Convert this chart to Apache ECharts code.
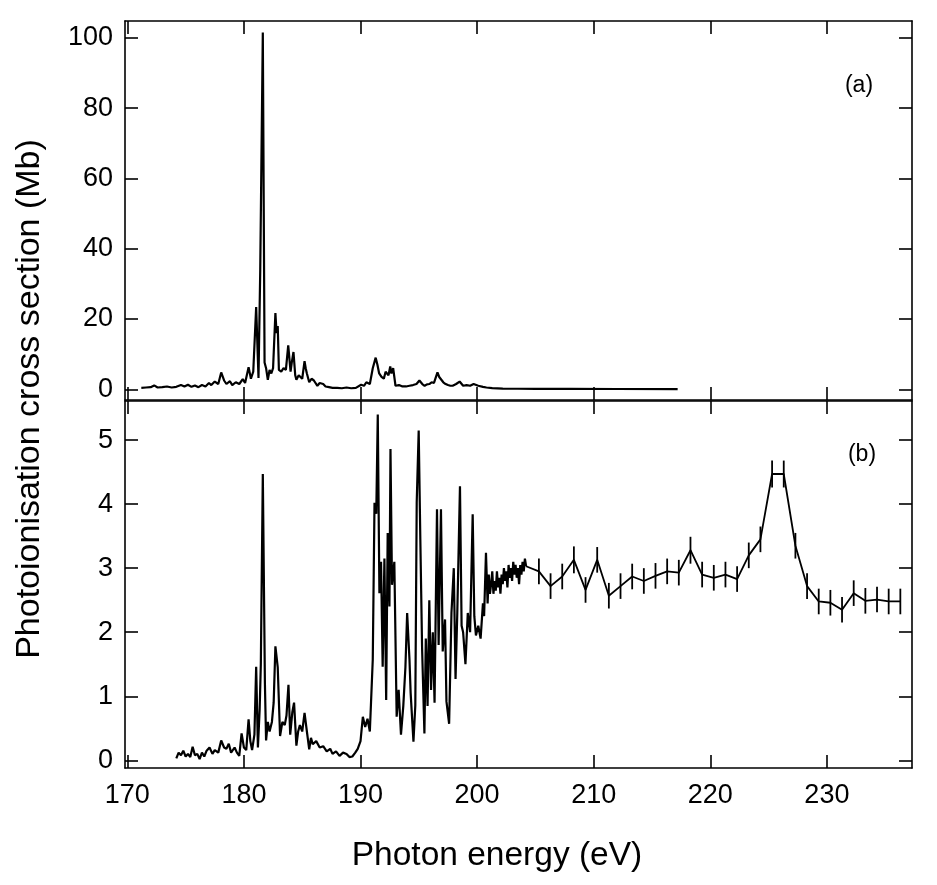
<!DOCTYPE html>
<html>
<head>
<meta charset="utf-8">
<script src="https://cdn.jsdelivr.net/npm/echarts@6/dist/echarts.min.js"></script>
<style>html,body{margin:0;padding:0;background:#fff;}#c{width:937px;height:885px;}</style>
</head>
<body>
<div id="c"></div>
<script>
// ---- Panel (a) spectrum ----
var energyA = [171.2,171.6,172.0,172.3,172.6,173.0,173.4,173.8,174.2,174.6,174.9,175.2,175.5,175.8,176.1,176.4,176.7,177.0,177.2,177.5,177.8,178.05,178.3,178.5,178.8,179.0,179.3,179.6,179.9,180.1,180.4,180.6,180.8,181.05,181.25,181.4,181.62,181.77,181.9,182.05,182.2,182.35,182.5,182.7,182.8,182.9,183.0,183.2,183.4,183.6,183.8,184.0,184.1,184.25,184.4,184.5,184.7,184.8,185.0,185.2,185.3,185.4,185.6,185.8,186.0,186.3,186.5,186.8,187.0,187.3,187.6,188.0,188.4,188.8,189.2,189.6,190.05,190.3,190.5,190.8,191.05,191.3,191.45,191.6,191.8,192.0,192.15,192.3,192.4,192.55,192.65,192.8,193.0,193.3,193.6,193.9,194.2,194.5,194.8,195.05,195.3,195.5,195.7,195.9,196.1,196.3,196.6,196.75,196.9,197.1,197.3,197.5,197.7,197.9,198.2,198.5,198.8,199.1,199.4,199.7,200.1,200.5,200.8,201.3,202.2,203.5,205,208,212,217.2];
var sigmaA = [0.4,0.5,0.6,1.1,0.5,0.6,0.8,0.5,0.7,1.2,0.8,1.3,0.7,1.1,0.6,1.2,0.8,1.8,1.2,2.2,1.5,4.8,2.5,1.5,2.3,1.2,2.0,1.5,2.9,1.8,6.3,3.0,5.0,23.4,3.2,34,101.5,7.6,6.0,2.7,5.5,4.5,6.0,21.7,16,18,5.5,5.0,6.0,5.5,12.5,5.0,7.5,10.6,4.0,2.7,4.0,4.5,3.0,8.0,6.0,4.5,2.0,3.0,2.5,1.0,1.8,1.5,0.8,0.6,0.4,0.4,0.3,0.5,0.3,0.4,1.3,1.0,2.0,1.5,6.0,9.0,7.0,4.5,3.5,3.0,5.0,5.5,4.0,6.5,4.5,6.0,1.0,1.2,0.8,0.8,1.0,1.2,1.5,2.5,1.5,1.0,1.4,1.5,2.0,1.8,4.8,3.5,3.0,2.0,1.5,1.2,1.0,1.0,1.5,2.2,1.0,1.2,1.0,1.5,1.0,0.7,0.5,0.35,0.2,0.15,0.12,0.1,0.08,0.05];

// ---- Panel (b) high-resolution spectrum ----
var energyB = [174.2,174.4,174.6,174.8,175.0,175.2,175.4,175.6,175.8,176.0,176.2,176.4,176.6,176.8,177.05,177.3,177.5,177.8,178.05,178.3,178.5,178.7,178.9,179.2,179.4,179.6,179.8,180.0,180.2,180.4,180.55,180.7,180.9,181.05,181.2,181.35,181.45,181.62,181.8,181.9,182.05,182.2,182.4,182.55,182.7,182.9,183.1,183.3,183.5,183.65,183.82,183.97,184.15,184.3,184.5,184.65,184.8,185.0,185.2,185.4,185.6,185.75,185.9,186.2,186.5,186.8,187.1,187.4,187.6,187.9,188.2,188.5,188.8,189.05,189.3,189.55,189.76,189.9,190.0,190.2,190.4,190.6,190.8,191.05,191.2,191.35,191.48,191.62,191.76,191.9,192.05,192.2,192.33,192.48,192.57,192.7,192.9,193.1,193.27,193.47,193.67,193.85,194.0,194.2,194.3,194.54,194.7,194.82,194.99,195.13,195.28,195.48,195.6,195.75,195.9,196.05,196.2,196.35,196.56,196.7,196.9,197.05,197.25,197.37,197.6,197.8,198.0,198.15,198.3,198.53,198.67,198.8,199.0,199.2,199.4,199.62,199.76,199.9,200.1,200.3,200.5,200.6,200.76,200.9,201.0,201.1,201.2,201.3,201.4,201.5,201.6,201.7,201.8,201.9,202.0,202.1,202.2,202.3,202.4,202.5,202.6,202.7,202.8,202.9,203.0,203.1,203.2,203.3,203.4,203.5,203.6,203.7,203.8,203.9,204.0,204.1,204.2];
var sigmaB = [0.03,0.12,0.08,0.15,0.06,0.1,0.05,0.21,0.08,0.1,0.02,0.12,0.06,0.15,0.2,0.1,0.16,0.12,0.31,0.2,0.18,0.26,0.12,0.2,0.12,0.07,0.42,0.2,0.16,0.64,0.3,0.16,0.4,1.46,0.2,0.8,1.5,4.47,1.2,0.31,0.6,0.45,0.6,0.9,1.78,1.45,0.38,0.6,0.55,0.7,1.18,0.4,0.75,0.9,0.23,0.45,0.55,0.45,0.74,0.45,0.17,0.35,0.25,0.3,0.2,0.22,0.14,0.18,0.1,0.14,0.07,0.12,0.1,0.05,0.06,0.12,0.18,0.16,0.3,0.68,0.52,0.65,0.45,1.57,4.02,3.85,5.4,2.61,3.1,1.46,3.15,0.94,3.55,2.4,4.86,2.74,3.1,0.68,1.1,0.4,0.85,1.45,2.3,1.57,1.05,0.29,0.86,4.03,5.15,3.45,1.76,0.42,1.9,0.85,2.5,1.1,2.0,0.9,3.92,1.8,3.92,1.7,2.2,0.92,0.57,2.3,3.0,1.27,2.3,4.28,2.1,2.0,1.5,2.3,2.0,3.84,2.25,1.95,2.1,1.9,2.45,2.25,3.24,2.45,2.9,2.6,2.75,2.95,2.6,2.8,2.65,2.95,2.7,2.85,2.6,2.9,2.75,3.0,2.8,2.95,2.7,3.05,2.85,3.0,2.8,3.1,2.9,3.05,2.85,3.0,2.75,3.05,2.9,3.1,2.95,3.15,3.03];

// ---- Panel (b) discrete points with error bars ----
var energyPts = [205.3,206.3,207.3,208.3,209.3,210.3,211.3,212.3,213.3,214.3,215.3,216.3,217.3,218.3,219.3,220.3,221.3,222.3,223.3,224.3,225.3,226.3,227.3,228.3,229.3,230.3,231.3,232.3,233.3,234.3,235.3,236.3];
var sigmaPts = [2.95,2.72,2.87,3.13,2.66,3.13,2.57,2.72,2.87,2.80,2.88,2.95,2.93,3.28,2.90,2.85,2.90,2.83,3.20,3.45,4.47,4.47,3.35,2.72,2.48,2.46,2.35,2.61,2.49,2.51,2.48,2.48];
var errPts = [0.2,0.2,0.2,0.21,0.2,0.2,0.2,0.2,0.2,0.2,0.2,0.2,0.2,0.21,0.2,0.2,0.2,0.2,0.2,0.2,0.21,0.21,0.2,0.2,0.2,0.2,0.2,0.2,0.2,0.2,0.2,0.2];

// ---- Tick labels ----
var xTicks = [170,180,190,200,210,220,230];
var yTicksA = [0,20,40,60,80,100];
var yTicksB = [0,1,2,3,4,5];

function zip(xs, ys){ var o=[]; for(var i=0;i<xs.length;i++) o.push([xs[i], ys[i]]); return o; }

var dataA = zip(energyA, sigmaA);
var dataB = zip(energyB, sigmaB);
var dataPts = [[energyB[energyB.length-1], sigmaB[sigmaB.length-1]]].concat(zip(energyPts, sigmaPts));
var errData = [];
for (var i=0;i<energyPts.length;i++) errData.push([energyPts[i], sigmaPts[i]-errPts[i], sigmaPts[i]+errPts[i]]);

var FONT = 'Liberation Sans';
var black = '#000';
var lineStyle = {color: black, width: 2.2};

function xAx(grid, pos, labels){
  return {
    type:'value', gridIndex:grid, position:pos, min:169.8, max:237.3,
    axisLine:{show:true, onZero:false, lineStyle:{color:black, width:1.6}},
    axisTick:{show:true, inside:true, length:13, customValues:xTicks, lineStyle:{color:black, width:1.6}},
    axisLabel:{show:labels, customValues:xTicks, fontFamily:FONT, fontSize:27, color:black, margin:14},
    splitLine:{show:false}
  };
}
function yAx(grid, pos, min, max, ticks, labels){
  return {
    type:'value', gridIndex:grid, position:pos, min:min, max:max,
    axisLine:{show:true, onZero:false, lineStyle:{color:black, width:1.6}},
    axisTick:{show:true, inside:true, length:13, customValues:ticks, lineStyle:{color:black, width:1.6}},
    axisLabel:{show:labels, customValues:ticks, fontFamily:FONT, fontSize:27, color:black, margin:12},
    splitLine:{show:false}
  };
}

var chart = echarts.init(document.getElementById('c'), null, {renderer:'canvas'});
chart.setOption({
  backgroundColor:'#fff',
  animation:false,
  grid:[
    {left:125, right:25, top:21, height:379},
    {left:125, right:25, top:401, height:367}
  ],
  xAxis:[ xAx(0,'bottom',false), xAx(0,'top',false), xAx(1,'bottom',true), xAx(1,'top',false) ],
  yAxis:[
    yAx(0,'left',-3.05,104.8,yTicksA,true), yAx(0,'right',-3.05,104.8,yTicksA,false),
    yAx(1,'left',-0.12,5.61,yTicksB,true), yAx(1,'right',-0.12,5.61,yTicksB,false)
  ],
  series:[
    {type:'line', xAxisIndex:0, yAxisIndex:0, data:dataA, showSymbol:false, lineStyle:lineStyle, z:3},
    {type:'line', xAxisIndex:2, yAxisIndex:2, data:dataB, showSymbol:false, lineStyle:lineStyle, z:3},
    {type:'line', xAxisIndex:2, yAxisIndex:2, data:dataPts, showSymbol:false, lineStyle:{color:black, width:1.8}, z:3},
    {type:'custom', xAxisIndex:2, yAxisIndex:2, data:errData, z:3,
      renderItem:function(params, api){
        var p1 = api.coord([api.value(0), api.value(1)]);
        var p2 = api.coord([api.value(0), api.value(2)]);
        return {type:'line', shape:{x1:p1[0], y1:p1[1], x2:p2[0], y2:p2[1]}, style:{stroke:black, lineWidth:1.8}};
      }
    }
  ],
  graphic:[
    {type:'text', x:30, y:399, rotation:Math.PI/2,
      style:{text:'Photoionisation cross section (Mb)', font:'34px "Liberation Sans"', fill:black, textAlign:'center', textVerticalAlign:'middle'}},
    {type:'text', x:497, y:856,
      style:{text:'Photon energy (eV)', font:'33.5px "Liberation Sans"', fill:black, textAlign:'center', textVerticalAlign:'middle'}},
    {type:'text', x:859, y:86,
      style:{text:'(a)', font:'23px "Liberation Sans"', fill:black, textAlign:'center', textVerticalAlign:'middle'}},
    {type:'text', x:862, y:455,
      style:{text:'(b)', font:'23px "Liberation Sans"', fill:black, textAlign:'center', textVerticalAlign:'middle'}}
  ]
});
</script>
</body>
</html>
